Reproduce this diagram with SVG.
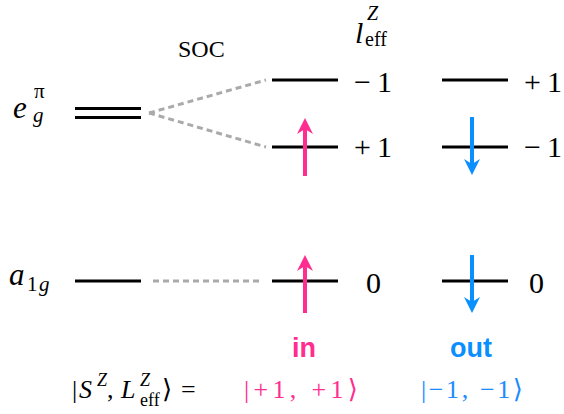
<svg xmlns="http://www.w3.org/2000/svg" width="564" height="414" viewBox="0 0 564 414">
<defs>
<style>
.lvl{stroke:#000;stroke-width:3;fill:none}
.dash{stroke:#aaaaaa;stroke-width:3;stroke-dasharray:6 4;fill:none}
.m{fill:#000}
.i{font-style:italic}
.pk{fill:#ff2d8f}
.bl{fill:#1a8cff}
.sans{font-weight:bold}
.ap{stroke:#ff2d8f;stroke-width:4;fill:none}
.ab{stroke:#0a8fff;stroke-width:4;fill:none}
</style>
<marker id="hp" viewBox="0 0 16 16" markerWidth="16" markerHeight="16" refX="6" refY="8" orient="auto" markerUnits="userSpaceOnUse">
<path d="M0,0 L16,8 L0,16 L5,8 z" fill="#ff2d8f"/>
</marker>
<marker id="hb" viewBox="0 0 16 16" markerWidth="16" markerHeight="16" refX="6" refY="8" orient="auto" markerUnits="userSpaceOnUse">
<path d="M0,0 L16,8 L0,16 L5,8 z" fill="#0a8fff"/>
</marker>
</defs>
<rect width="564" height="414" fill="#fff"/>

<g id="connectors">
<line class="dash" x1="149" y1="113" x2="266" y2="80"/>
<line class="dash" x1="149" y1="113" x2="266" y2="147"/>
<line class="dash" x1="153" y1="281" x2="262" y2="281"/>
</g>

<g font-family="Liberation Serif, DejaVu Serif, serif">
<g id="eg">
<line class="lvl" x1="75" y1="108.5" x2="141" y2="108.5"/>
<line class="lvl" x1="75" y1="117.5" x2="141" y2="117.5"/>
<text class="m" font-size="31"><tspan class="i" x="13" y="118">e</tspan><tspan x="34" y="98" font-size="21">π</tspan><tspan class="i" x="33" y="122" font-size="21">g</tspan></text>
</g>

<g id="a1g">
<line class="lvl" x1="75" y1="281" x2="141" y2="281"/>
<text class="m" font-size="31"><tspan class="i" x="9" y="285">a</tspan><tspan x="27" y="291" font-size="21">1</tspan><tspan class="i" x="39" y="291" font-size="21">g</tspan></text>
</g>

<g id="soc">
<text class="m" x="178" y="57" font-size="24">SOC</text>
</g>

<g id="leff">
<text class="m" font-size="30"><tspan class="i" x="355" y="43">l</tspan><tspan class="i" x="367" y="20" font-size="20">Z</tspan><tspan x="365" y="46" font-size="20">eff</tspan></text>
</g>

<g id="in-top">
<line class="lvl" x1="272" y1="80" x2="338" y2="80"/>
<text class="m" x="354" y="92" font-size="30" textLength="38" lengthAdjust="spacing">−1</text>
</g>
<g id="in-mid">
<line class="lvl" x1="272" y1="147" x2="338" y2="147"/>
<text class="m" x="354" y="157" font-size="30" textLength="38" lengthAdjust="spacing">+1</text>
</g>
<g id="in-bot">
<line class="lvl" x1="272" y1="281" x2="338" y2="281"/>
<text class="m" x="366" y="293" font-size="30">0</text>
</g>
<g id="out-top">
<line class="lvl" x1="442" y1="80" x2="508" y2="80"/>
<text class="m" x="524" y="92" font-size="30" textLength="38" lengthAdjust="spacing">+1</text>
</g>
<g id="out-mid">
<line class="lvl" x1="442" y1="147" x2="508" y2="147"/>
<text class="m" x="524" y="157" font-size="30" textLength="38" lengthAdjust="spacing">−1</text>
</g>
<g id="out-bot">
<line class="lvl" x1="442" y1="281" x2="508" y2="281"/>
<text class="m" x="529" y="293" font-size="30">0</text>
</g>

<g id="formula">
<text class="m" font-size="26"><tspan x="72" y="398">|</tspan><tspan class="i" x="79" y="398">S</tspan><tspan class="i" x="97" y="386" font-size="18">Z</tspan><tspan x="107" y="398">,</tspan><tspan class="i" x="121" y="398">L</tspan><tspan class="i" x="140" y="386" font-size="18">Z</tspan><tspan x="140" y="406" font-size="18">eff</tspan><tspan x="162" y="398">⟩</tspan><tspan x="181" y="398">=</tspan></text>
<text class="m pk" x="244" y="398" font-size="26" textLength="114" lengthAdjust="spacing">|+1, +1⟩</text>
<text class="m bl" x="421" y="398" font-size="26" textLength="102" lengthAdjust="spacing">|−1, −1⟩</text>
</g>
</g>

<g id="arrows">
<line class="ap" x1="305" y1="176" x2="305" y2="128" marker-end="url(#hp)"/>
<line class="ab" x1="472" y1="117" x2="472" y2="165" marker-end="url(#hb)"/>
<line class="ap" x1="305" y1="313" x2="305" y2="265" marker-end="url(#hp)"/>
<line class="ab" x1="472" y1="255" x2="472" y2="303" marker-end="url(#hb)"/>
</g>

<g id="labels" font-family="Liberation Sans, Arial, sans-serif">
<text class="sans pk" x="292" y="357" font-size="27">in</text>
<text class="sans" x="450" y="357" font-size="27" fill="#0a8fff">out</text>
</g>
</svg>
